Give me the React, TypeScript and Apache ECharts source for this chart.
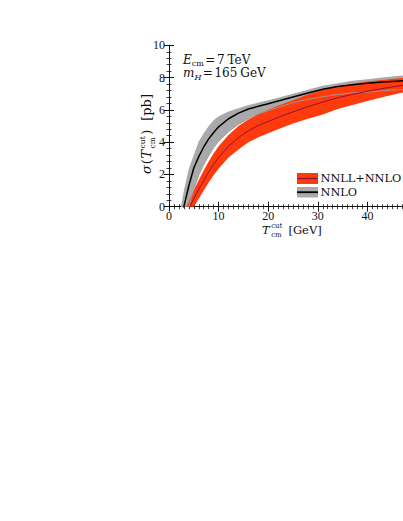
import React, { useEffect, useRef } from 'react';
import * as echarts from 'echarts';

// ---- data ----
const tGrid = [2, 3, 4, 5, 6, 7, 8, 9, 10, 12, 14, 16, 18, 20, 22, 25, 28, 31, 34, 37, 40, 43, 46, 50];
// NNLO (gray band + black central line)
const nnloCentral = [-1.0, 0.0, 1.3, 2.4, 3.1, 3.7, 4.2, 4.6, 4.95, 5.45, 5.8, 6.05, 6.22, 6.38, 6.55, 6.8, 7.05, 7.28, 7.45, 7.55, 7.65, 7.72, 7.78, 7.85];
const nnloUpper = [-0.7, 1.0, 2.35, 3.2, 4.05, 4.55, 5.0, 5.35, 5.6, 5.9, 6.1, 6.3, 6.45, 6.6, 6.75, 7.0, 7.25, 7.5, 7.65, 7.8, 7.9, 8.0, 8.1, 8.2];
const nnloLower = [-2.5, -1.2, 0.0, 1.05, 1.95, 2.6, 3.15, 3.65, 4.05, 4.65, 5.1, 5.45, 5.75, 5.95, 6.15, 6.45, 6.65, 6.82, 6.95, 7.05, 7.1, 7.18, 7.25, 7.3];
// NNLL+NNLO (red band + dark red central line)
const resCentral = [-1.7, -0.85, -0.15, 0.5, 1.08, 1.62, 2.15, 2.62, 3.05, 3.75, 4.28, 4.7, 5.03, 5.28, 5.53, 5.88, 6.2, 6.48, 6.75, 6.96, 7.15, 7.32, 7.47, 7.65];
const resUpper = [-1.2, -0.4, 0.3, 1.0, 1.65, 2.25, 2.8, 3.3, 3.75, 4.45, 5.0, 5.4, 5.75, 6.0, 6.25, 6.6, 6.95, 7.25, 7.45, 7.62, 7.75, 7.85, 7.94, 8.05];
const resLower = [-2.2, -1.3, -0.6, 0.0, 0.5, 1.0, 1.5, 1.95, 2.35, 3.05, 3.55, 4.0, 4.3, 4.55, 4.8, 5.15, 5.45, 5.72, 6.05, 6.3, 6.55, 6.78, 7.0, 7.25];

const xRange = [0, 50];
const yRange = [0, 10];
const legendNames = ['NNLL+NNLO', 'NNLO'];

const SERIF = "'DejaVu Serif', serif";
const NUM = "'Liberation Serif', serif";
const INK = '#111111';
const RED = '#ff3a0c';
const RED_LINE = '#8e1238';
const GRAY = '#a9a9a9';

let measureCtx: CanvasRenderingContext2D | null = null;
function textWidth(text: string, size: number, italic = false) {
  if (!measureCtx) measureCtx = document.createElement('canvas').getContext('2d');
  measureCtx!.font = `${italic ? 'italic ' : ''}${size}px ${SERIF}`;
  return measureCtx!.measureText(text).width;
}

type Piece =
  | { kind?: 'text'; text: string; size: number; italic?: boolean; dy?: number; dx?: number }
  | { kind: 'stack'; sup: string; sub: string; size: number; supDy: number; subDy: number; dx?: number };

function txt(x: number, base: number, text: string, size: number, italic = false) {
  return {
    type: 'text',
    x,
    y: base - 0.34 * size,
    silent: true,
    style: {
      text,
      fontFamily: SERIF,
      fontSize: size,
      fontStyle: italic ? 'italic' : 'normal',
      fill: INK,
      align: 'left',
      verticalAlign: 'middle',
    },
  };
}

function layoutRun(x0: number, base: number, pieces: Piece[]) {
  const els: any[] = [];
  let x = x0;
  for (const p of pieces) {
    x += p.dx || 0;
    if (p.kind === 'stack') {
      els.push(txt(x, base + p.supDy, p.sup, p.size));
      els.push(txt(x, base + p.subDy, p.sub, p.size));
      x += Math.max(textWidth(p.sup, p.size), textWidth(p.sub, p.size));
    } else {
      els.push(txt(x, base + (p.dy || 0), p.text, p.size, !!p.italic));
      x += textWidth(p.text, p.size, !!p.italic);
    }
  }
  return { els, width: x - x0 };
}

function bandSeries(upper: number[], lower: number[], color: string) {
  return {
    type: 'custom',
    silent: true,
    clip: true,
    data: [0],
    renderItem: (params: any, api: any) => {
      const pts: number[][] = [];
      tGrid.forEach((t, i) => pts.push(api.coord([t, upper[i]])));
      for (let i = tGrid.length - 1; i >= 0; i--) pts.push(api.coord([tGrid[i], lower[i]]));
      return { type: 'polygon', shape: { points: pts }, style: { fill: color, stroke: 'none' } };
    },
  };
}

function lineSeries(vals: number[], color: string, width: number) {
  return {
    type: 'line',
    silent: true,
    showSymbol: false,
    clip: true,
    data: tGrid.map((t, i) => [t, vals[i]]),
    lineStyle: { color, width },
  };
}

function axisCommon(min: number, max: number, interval: number, minorSplit: number) {
  return {
    type: 'value',
    min,
    max,
    interval,
    axisLine: { show: true, lineStyle: { color: INK, width: 1 } },
    axisTick: { show: true, inside: true, length: 5, lineStyle: { color: INK, width: 1 } },
    minorTick: { show: true, splitNumber: minorSplit, length: 2.5, lineStyle: { color: INK, width: 0.8 } },
    splitLine: { show: false },
    minorSplitLine: { show: false },
  };
}

export default function App() {
  const ref = useRef<HTMLDivElement>(null);
  useEffect(() => {
    if (!ref.current) return;
    const chart = echarts.init(ref.current, undefined, { renderer: 'svg' });

    const label = { fontFamily: NUM, fontSize: 12, color: INK };

    // Annotations
    const line1 = layoutRun(183, 64, [
      { text: 'E', size: 12, italic: true },
      { text: 'cm', size: 8, dy: 2.5 },
      { text: '=', size: 12, dx: 1.5 },
      { text: '7', size: 12, dx: 1.5 },
      { text: 'TeV', size: 12, dx: 3 },
    ]);
    const line2 = layoutRun(183, 77.5, [
      { text: 'm', size: 12, italic: true },
      { text: 'H', size: 8, italic: true, dy: 2.5 },
      { text: '=', size: 12, dx: 1.5 },
      { text: '165', size: 12, dx: 1.5 },
      { text: 'GeV', size: 12, dx: 3 },
    ]);

    // x-axis title
    const xTitle = layoutRun(262, 233.5, [
      { text: 'T', size: 11.5, italic: true },
      { kind: 'stack', sup: 'cut', sub: 'cm', size: 7, supDy: -5.5, subDy: 3.5, dx: 1.5 },
      { text: '[GeV]', size: 11.5, dx: 6 },
    ]);

    // y-axis title (built horizontally, then rotated)
    const yTitleRun = layoutRun(0, 0, [
      { text: 'σ', size: 13, italic: true },
      { text: '(', size: 13, dx: 1 },
      { text: 'T', size: 13, italic: true, dx: 0.5 },
      { kind: 'stack', sup: 'cut', sub: 'cm', size: 7.5, supDy: -6, subDy: 4, dx: 1.5 },
      { text: ')', size: 13, dx: 1.5 },
      { text: '[pb]', size: 13, dx: 9 },
    ]);
    const yTitleCenter = 134;

    const legendEls: any[] = [
      { type: 'rect', shape: { x: 297, y: 173, width: 21, height: 11 }, style: { fill: RED }, silent: true },
      { type: 'line', shape: { x1: 297, y1: 178.5, x2: 318, y2: 178.5 }, style: { stroke: RED_LINE, lineWidth: 1.2 }, silent: true },
      { type: 'rect', shape: { x: 297, y: 187, width: 21, height: 10.5 }, style: { fill: GRAY }, silent: true },
      { type: 'line', shape: { x1: 297, y1: 192.2, x2: 318, y2: 192.2 }, style: { stroke: '#000', lineWidth: 1.8 }, silent: true },
      txt(320.5, 182.5, legendNames[0], 11.3),
      txt(320.5, 196, legendNames[1], 11.3),
    ];

    chart.setOption({
      animation: false,
      backgroundColor: '#ffffff',
      grid: { left: 169, top: 45.3, width: 248, height: 161.4, containLabel: false },
      xAxis: [
        {
          ...axisCommon(xRange[0], xRange[1], 10, 10),
          position: 'bottom',
          axisLabel: { ...label, margin: 3, showMaxLabel: false },
        },
        {
          ...axisCommon(xRange[0], xRange[1], 10, 10),
          position: 'top',
          axisLabel: { show: false },
        },
      ],
      yAxis: [
        {
          ...axisCommon(yRange[0], yRange[1], 2, 5),
          position: 'left',
          axisLabel: { ...label, margin: 4 },
        },
        {
          ...axisCommon(yRange[0], yRange[1], 2, 5),
          position: 'right',
          axisLabel: { show: false },
        },
      ],
      series: [
        { name: legendNames[1] + ' band', ...bandSeries(nnloUpper, nnloLower, GRAY) },
        { name: legendNames[0] + ' band', ...bandSeries(resUpper, resLower, RED) },
        { name: 'NNLO lower edge', ...lineSeries(nnloLower, '#9c9c9c', 0.9) },
        { name: legendNames[0], ...lineSeries(resCentral, RED_LINE, 1) },
        { name: legendNames[1], ...lineSeries(nnloCentral, '#000000', 1.5) },
      ],
      graphic: [
        ...line1.els,
        ...line2.els,
        ...xTitle.els,
        {
          type: 'group',
          x: 151,
          y: yTitleCenter + yTitleRun.width / 2,
          rotation: Math.PI / 2,
          silent: true,
          children: yTitleRun.els,
        },
        ...legendEls,
      ],
    });
    return () => chart.dispose();
  }, []);

  return (
    <div style={{ position: 'fixed', left: 0, top: 0, width: 403, height: 521, overflow: 'hidden', background: '#fff' }}>
      <div ref={ref} style={{ width: 440, height: 521 }} />
    </div>
  );
}
